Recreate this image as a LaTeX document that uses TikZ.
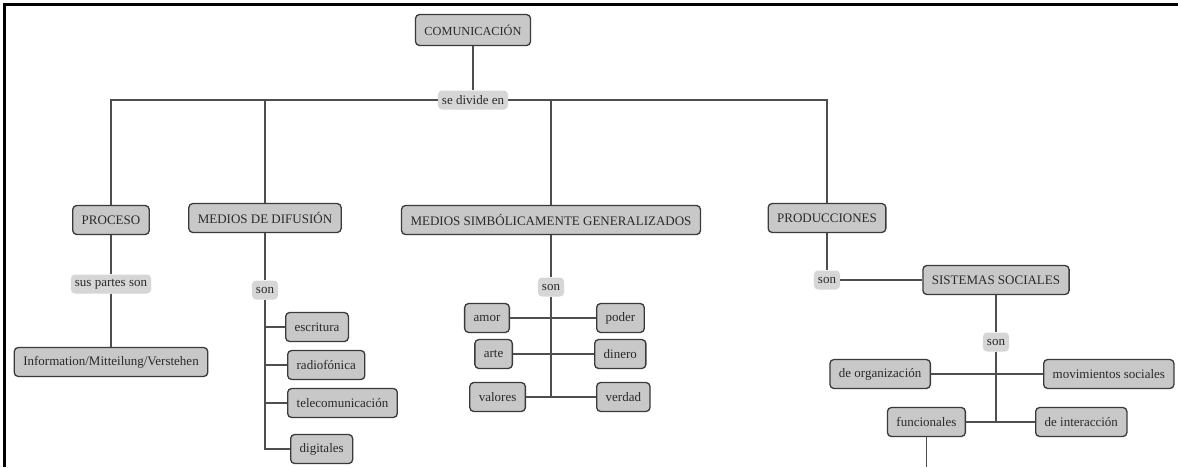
\documentclass[tikz,border=0pt]{standalone}
\usepackage{fontspec}
\setmainfont{Liberation Serif}
\usetikzlibrary{calc}

\definecolor{boxfill}{HTML}{C8C8C8}
\definecolor{boxline}{HTML}{3A3A3A}
\definecolor{linkfill}{HTML}{D6D6D6}
\definecolor{wirecol}{HTML}{4E4E4E}
\definecolor{ink}{HTML}{2A2A2A}

\begin{document}
\begin{tikzpicture}[
    x=1pt, y=-1pt, % pixel units, y grows downwards
    concept/.style={draw=boxline, fill=boxfill, line width=1.3pt, rounded corners=4pt,
        inner xsep=9pt, inner ysep=0pt, minimum height=29pt, text=ink,
        font=\fontsize{13}{15}\selectfont}, % Style for concepts
    link/.style={fill=linkfill, rounded corners=4pt, inner xsep=4pt, inner ysep=1pt,
        minimum height=19pt, text=ink, font=\fontsize{13}{15}\selectfont}, % Linking words
    wire/.style={draw=wirecol, line width=1.2pt}
]
\useasboundingbox (0,0) rectangle (1178,467);

% Frame (top and left edge only)
\draw[line width=3pt] (4,467) -- (4,4) -- (1178,4);
\coordinate (borde) at (0,467); % bottom edge of the picture

% Root
\node[concept, minimum height=31pt, font=\fontsize{12.3}{14}\selectfont] (com) at (473,30) {COMUNICACIÓN};
\node[link] (divide) at (473,100) {se divide en};

% First level
\node[concept] (proceso) at (111,220) {PROCESO};
\node[concept] (difusion) at (265,218) {MEDIOS DE DIFUSIÓN};
\node[concept] (simbolicos) at (551,220) {MEDIOS SIMBÓLICAMENTE GENERALIZADOS};
\node[concept] (producciones) at (827,218) {PRODUCCIONES};

% Proceso
\node[link] (partes) at (111,284) {sus partes son};
\node[concept] (info) at (111,362) {Information/Mitteilung/Verstehen};

% Medios de difusion
\node[link] (son1) at (265,290) {son};
\node[concept, anchor=west] (escritura) at (285,327) {escritura};
\node[concept, anchor=west] (radio) at (287,365) {radiofónica};
\node[concept, anchor=west] (tele) at (287,403) {telecomunicación};
\node[concept, anchor=west] (digitales) at (290,449) {digitales};

% Medios simbolicamente generalizados
\node[link] (son2) at (551,287) {son};
\node[concept, anchor=east] (amor) at (510,318) {amor};
\node[concept, anchor=west] (poder) at (596,318) {poder};
\node[concept, anchor=east] (arte) at (513,354) {arte};
\node[concept, anchor=west] (dinero) at (594,354) {dinero};
\node[concept, anchor=east] (valores) at (526,397) {valores};
\node[concept, anchor=west] (verdad) at (596,397) {verdad};

% Producciones
\node[link] (son3) at (827,280) {son};
\node[concept] (sistemas) at (996,280) {SISTEMAS SOCIALES};
\node[link] (son4) at (996,342) {son};
\node[concept, anchor=east] (organizacion) at (931,374) {de organización};
\node[concept, anchor=west] (movimientos) at (1043,374) {movimientos sociales};
\node[concept, anchor=east] (funcionales) at (966,422) {funcionales};
\node[concept, anchor=west] (interaccion) at (1035,422) {de interacción};

% Connectors
\draw[wire] (com) -- (divide);
\foreach \n in {proceso, difusion, simbolicos, producciones}
    \draw[wire] (divide) -| (\n);
\draw[wire] (proceso) -- (partes) -- (info);
\draw[wire] (difusion) -- (son1);
\foreach \n in {escritura, radio, tele, digitales}
    \draw[wire] (son1) |- (\n);
\draw[wire] (simbolicos) -- (son2) -- (son2 |- valores);
\draw[wire] (amor) -- (poder);
\draw[wire] (arte) -- (dinero);
\draw[wire] (valores) -- (verdad);
\draw[wire] (producciones) -- (son3) -- (sistemas);
\draw[wire] (sistemas) -- (son4) -- (son4 |- funcionales);
\draw[wire] (organizacion) -- (movimientos);
\draw[wire] (funcionales) -- (interaccion);
\draw[wire] (funcionales) -- (funcionales |- borde); % continues below the frame

\end{tikzpicture}
\end{document}
